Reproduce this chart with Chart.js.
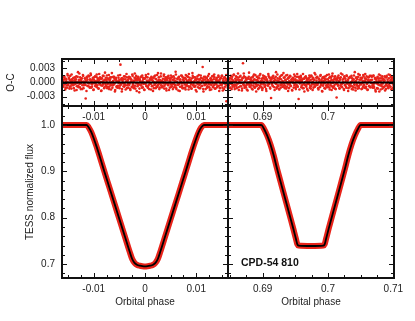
<!DOCTYPE html>
<html>
<head>
<meta charset="utf-8">
<script src="https://cdn.jsdelivr.net/npm/chart.js@4.4.1/dist/chart.umd.min.js"></script>
<style>
  html, body { margin: 0; padding: 0; background: #fff; }
  #wrap { position: relative; width: 415px; height: 321px; }
  #wrap canvas { position: absolute; left: 0; top: 0; }
</style>
</head>
<body>
<div id="wrap">
  <canvas id="bl" width="415" height="321"></canvas>
  <canvas id="br" width="415" height="321"></canvas>
  <canvas id="tl" width="415" height="321"></canvas>
  <canvas id="tr" width="415" height="321"></canvas>
</div>
<script>
// ---- data ----
const RANGE_L = [-0.0162, 0.0162];
const RANGE_R = [0.6847, 0.7101];

const X_TICKS_L = [-0.01, 0, 0.01];
const X_LABELS_L = ['-0.01', '0', '0.01'];
const X_TICKS_R = [0.69, 0.70, 0.71];
const X_LABELS_R = ['0.69', '0.7', '0.71'];
const X_TICKS_R_TOP = [0.69, 0.70];
const X_LABELS_R_TOP = ['0.69', '0.7'];

const OC_RANGE = [-0.005, 0.005];
const OC_TICKS = [0.003, 0, -0.003];
const OC_LABELS = ['0.003', '0.000', '-0.003'];
const FLUX_RANGE = [0.67, 1.041];
const FLUX_TICKS = [1.0, 0.9, 0.8, 0.7];
const FLUX_LABELS = ['1.0', '0.9', '0.8', '0.7'];

const STAR_NAME = 'CPD-54 810';

// model light curve, primary eclipse
const MODEL_PH_L = [-0.0162, -0.0114, -0.0110, -0.0105, -0.0100, -0.0095, -0.0090, -0.0085, -0.0080, -0.0070,
  -0.0060, -0.0050, -0.0040, -0.0030, -0.0025, -0.0020, -0.0015, -0.0010, -0.0005, 0,
  0.0005, 0.0010, 0.0015, 0.0020, 0.0025, 0.0030, 0.0040, 0.0050, 0.0060, 0.0070,
  0.0080, 0.0085, 0.0090, 0.0095, 0.0100, 0.0105, 0.0110, 0.0115, 0.0162];
const MODEL_FLUX_L = [1.000, 1.000, 0.995, 0.985, 0.971, 0.955, 0.938, 0.920, 0.902, 0.867,
  0.832, 0.797, 0.762, 0.727, 0.711, 0.702, 0.698, 0.6965, 0.6955, 0.695,
  0.6955, 0.6965, 0.698, 0.702, 0.711, 0.727, 0.762, 0.797, 0.832, 0.867,
  0.902, 0.920, 0.938, 0.955, 0.971, 0.985, 0.995, 1.000, 1.000];

// model light curve, secondary eclipse (flat bottomed)
const MODEL_PH_R = [0.6847, 0.6898, 0.6902, 0.6907, 0.6912, 0.6917, 0.6922, 0.6927, 0.6932, 0.6937,
  0.6942, 0.6947, 0.6951, 0.6953, 0.6955, 0.6974, 0.6993, 0.6995, 0.6997, 0.7001,
  0.7006, 0.7011, 0.7016, 0.7021, 0.7026, 0.7031, 0.7036, 0.7041, 0.7046, 0.7050, 0.7101];
const MODEL_FLUX_R = [1.000, 1.000, 0.992, 0.977, 0.958, 0.934, 0.906, 0.880, 0.854, 0.828,
  0.802, 0.776, 0.754, 0.743, 0.740, 0.739, 0.740, 0.743, 0.754, 0.776,
  0.802, 0.828, 0.854, 0.880, 0.906, 0.934, 0.958, 0.977, 0.992, 1.000, 1.000];

// O-C residuals in units of 1e-4, in phase order across each panel (two interleaved passes each)
const RES_PH_L_A = [-0.0161, 0.0161];
const RES_PH_L_B = [-0.01605, 0.01615];
const RES_L_A = [
  4,-7,12,-3,9,-15,2,6,-11,18,-5,0,8,-9,14,-2,-13,7,3,-6,
  10,-4,-17,5,1,13,-8,-1,22,-10,6,-3,11,-14,3,9,-6,16,-12,2,
  -5,8,-34,4,12,-7,0,15,-2,-9,7,19,-11,3,-4,10,-16,6,-1,13,
  -8,2,17,-6,9,-13,5,-3,11,1,-18,8,-7,14,-1,4,-10,21,-5,6,
  3,-12,9,-2,16,-9,7,-4,-15,11,0,-6,12,-3,8,-19,5,10,-8,2,
  -11,15,-1,6,-7,38,-4,9,-14,3,7,-2,-9,13,-6,1,18,-12,5,-3,
  8,-5,11,-16,2,6,-10,14,-1,-7,4,19,-13,9,-2,5,-8,12,-4,-21,
  7,1,-6,13,-11,3,10,-3,-15,8,-1,16,-7,4,11,-9,2,-14,6,9,
  -3,12,-8,5,-18,10,0,-5,15,-12,7,2,-9,20,-4,6,-11,3,13,-6,
  1,-10,8,-2,17,-7,4,11,-13,-1,9,-5,14,-16,3,7,-4,10,-8,12,
  -14,5,-3,9,-6,23,-11,2,8,-4,-17,12,6,-9,1,15,-2,-7,11,-12,
  4,-1,10,-15,7,-5,13,3,-8,18,-10,0,6,-3,-13,9,14,-6,2,-9,
  11,-7,5,-19,8,1,-4,16,-12,6,-2,10,-8,3,33,-14,7,-1,-6,12,
  -3,9,-11,4,14,-9,2,-16,8,5,-5,13,-1,-10,7,17,-13,0,6,-4,
  10,-8,3,12,-18,6,-2,9,-6,15,-11,4,1,-14,11,-3,8,-40,5,2];
const RES_L_B = [
  2,-9,6,13,-4,-11,8,1,-6,15,-2,10,-13,5,-8,3,17,-5,-1,9,
  -12,4,11,-3,7,-16,0,12,-7,3,19,-10,5,-2,8,-14,1,14,-6,-3,
  9,-5,2,-18,10,6,-8,-1,13,-11,4,16,-3,-9,7,0,-15,11,3,-7,
  -4,12,-10,5,1,-13,18,-2,8,-6,-17,9,2,-4,14,-12,6,-1,10,-8,
  15,-3,-9,7,-14,4,11,-6,0,20,-11,3,-5,12,-2,-16,8,5,-10,1,
  -7,10,3,-12,16,-4,6,-19,9,-1,-8,13,-3,7,-15,2,11,-6,4,-11,
  12,-2,-14,8,1,-9,17,-5,3,-12,10,-7,5,14,-18,-1,9,-4,6,-13,
  3,11,-6,-2,15,-10,7,0,-16,9,-3,12,-8,2,-11,18,-5,4,-1,8,
  -15,6,10,-7,2,-12,13,-4,8,-1,-9,16,-6,3,11,-14,5,-2,19,-10,
  4,-8,1,14,-13,7,-3,10,-17,5,12,-6,-1,9,-11,3,15,-9,-4,6,
  -2,13,-10,4,-6,17,-14,1,8,-5,11,-3,-18,7,2,-9,14,-12,6,0,
  9,-4,-11,16,-7,3,-1,12,-15,6,10,-8,4,-13,1,20,-6,-3,11,-9,
  5,-16,8,-2,13,-10,2,7,-5,-12,15,-1,9,-7,4,-19,12,-3,6,-14,
  1,10,-8,5,-3,18,-11,-4,9,-15,6,2,-9,14,-6,11,-2,-13,7,3,
  -10,4,15,-7,1,-12,9,-5,13,-3,-17,8,-1,11,-9,5,16,-6,2,-11];
const RES_PH_R_A = [0.6848, 0.7100];
const RES_PH_R_B = [0.68484, 0.71004];
const RES_R_A = [
  -6,9,2,-12,14,-3,7,-9,1,16,-5,-14,8,3,-7,11,-2,19,-10,5,
  12,-8,-1,6,-17,10,41,-4,13,-11,2,8,-6,-15,9,0,-3,21,-9,7,
  -2,5,-13,11,3,-7,17,-10,6,-1,-19,12,4,-5,9,-12,15,1,-8,3,
  8,-16,10,-4,2,13,-9,6,-14,7,0,-6,18,-3,11,-11,5,-33,9,-1,
  -7,14,3,-10,6,-2,22,-13,4,9,-8,1,-15,12,-5,7,-3,16,-9,2,
  10,-6,-12,5,15,-1,-9,8,-18,11,3,-4,13,-7,6,-16,2,9,-11,17,
  -3,7,-14,1,12,-8,4,-35,10,-2,6,14,-10,3,-5,18,-12,8,0,-6,
  13,-9,5,-3,-17,9,2,11,-7,-13,15,-4,7,1,-11,6,20,-8,-2,10,
  -5,12,-1,-15,8,4,-9,16,-6,3,-19,11,-3,9,-12,5,13,-7,1,-10,
  7,-4,17,-11,2,-6,10,-16,14,-1,5,-8,12,-13,8,-2,-32,6,11,-5,
  3,-12,9,-7,19,-3,-10,6,1,-14,13,-5,8,-9,15,-2,4,-18,10,-6,
  -9,11,-2,14,-8,5,-15,7,-4,22,-11,3,9,-6,-13,12,0,-7,16,-3,
  6,-14,10,-1,-9,13,-5,4,18,-12,7,-3,-16,11,2,-8,14,-10,5,-1,
  12,-7,-4,15,-11,1,8,-19,6,-2,10,-13,3,17,-6,9,-15,4,-8,13,
  -2,8,-10,5,-17,11,-4,14,-7,2,-12,9,-1,16,-9,6,-14,3,11,-5];
const RES_R_B = [
  7,-3,-11,9,2,-14,12,-6,4,17,-9,1,-5,13,-12,6,-2,10,-16,3,
  -1,14,-8,5,-13,9,-4,19,-7,2,11,-10,6,-3,-17,8,12,-5,1,-9,
  10,-6,3,-15,13,-2,7,-11,16,-4,-8,5,12,-14,2,9,-7,18,-3,-10,
  4,-12,15,-1,8,-9,-5,11,-18,6,3,-7,14,-2,10,-13,1,7,-4,12,
  -8,2,9,-16,5,12,-3,-10,17,-6,4,-14,8,1,-11,15,-5,3,-9,20,
  -2,11,-7,6,-13,1,16,-4,9,-12,-3,14,-8,2,7,-17,10,-1,5,-6,
  13,-10,4,-5,18,-9,2,12,-15,3,-1,10,-7,6,-12,8,-3,-19,11,1,
  -6,9,-14,2,7,-3,15,-11,5,-8,13,0,-16,10,-4,6,-9,17,-2,4,
  11,-5,-12,8,1,-10,14,-3,6,-18,9,-7,3,12,-1,-13,7,-6,16,-4,
  -9,3,10,-15,12,-2,5,-8,19,-11,1,7,-5,13,-14,4,-3,9,-7,15,
  2,-13,6,11,-4,-9,17,-1,8,-16,10,-6,3,-11,14,-2,5,-12,9,-3,
  12,-7,1,-14,9,4,-10,15,-5,2,-17,11,-3,7,-8,18,-12,6,-1,10,
  -4,8,-13,3,16,-6,-11,9,2,-9,13,-2,-15,5,11,-7,4,-10,14,-1,
  6,-11,14,-8,-2,10,-16,7,1,-12,12,-4,8,-19,3,15,-6,-3,9,-13,
  5,-9,2,13,-7,-14,11,-1,6,-10,17,-5,-8,4,12,-15,9,-2,-11,7];

// ---- styling ----
const RED = '#e8231a';
const INK = '#111';
Chart.defaults.font.family = "'Liberation Sans', Arial, sans-serif";
Chart.defaults.font.size = 10;
Chart.defaults.color = '#222';

const toXY = (xs, ys) => xs.map((x, i) => ({ x, y: ys[i] }));
const resPoints = (range, vals) => vals.map((r, i) => ({
  x: range[0] + (range[1] - range[0]) * i / (vals.length - 1),
  y: r * 1e-4
}));

// inward ticks on all four sides plus the heavy frame
const frameTicks = {
  id: 'frameTicks',
  afterDatasetsDraw(chart, args, opts) {
    const { ctx, chartArea: a } = chart;
    const xs = chart.scales.x, ys = chart.scales.y;
    ctx.save();
    ctx.strokeStyle = INK;
    ctx.lineWidth = 1;
    ctx.beginPath();
    const marks = (scale, step, majors, horiz) => {
      const first = Math.ceil(scale.min / step - 1e-6);
      for (let k = first; k * step <= scale.max + 1e-9; k++) {
        const v = k * step;
        const major = majors.some(m => Math.abs(m - v) < step / 10);
        const len = major ? 5 : 3;
        const p = Math.round(scale.getPixelForValue(v)) + 0.5;
        if (horiz) {
          ctx.moveTo(p, a.bottom); ctx.lineTo(p, a.bottom - len);
          ctx.moveTo(p, a.top); ctx.lineTo(p, a.top + len);
        } else {
          ctx.moveTo(a.left, p); ctx.lineTo(a.left + len, p);
          ctx.moveTo(a.right, p); ctx.lineTo(a.right - len, p);
        }
      }
    };
    marks(xs, opts.xStep, opts.xMajor, true);
    marks(ys, opts.yStep, opts.yMajor, false);
    ctx.stroke();
    ctx.lineWidth = 2;
    ctx.strokeRect(a.left, a.top, a.right - a.left, a.bottom - a.top);
    if (opts.note) {
      ctx.fillStyle = INK;
      ctx.font = "bold 10.5px 'Liberation Sans', Arial, sans-serif";
      ctx.textBaseline = 'middle';
      ctx.fillText(opts.note, a.left + 13, a.bottom - 15);
    }
    ctx.restore();
  }
};

function xAxis(range, ticks, labels, height, title) {
  return {
    type: 'linear', position: 'bottom', min: range[0], max: range[1],
    afterBuildTicks: s => { s.ticks = ticks.map(v => ({ value: v })); },
    afterFit: s => { s.height = height; },
    grid: { display: false, drawTicks: false }, border: { display: false },
    ticks: { autoSkip: false, maxRotation: 0, padding: 5, callback: (v, i) => labels[i] },
    title: title ? { display: true, text: title, font: { size: 10 }, padding: { top: 0, bottom: 13 } } : { display: false }
  };
}

function yAxis(range, ticks, labels, title, titlePad) {
  if (!labels) return { type: 'linear', display: false, min: range[0], max: range[1] };
  return {
    type: 'linear', position: 'left', min: range[0], max: range[1],
    afterBuildTicks: s => { s.ticks = ticks.map(v => ({ value: v })); },
    afterFit: s => { s.width = 62; },
    grid: { display: false, drawTicks: false }, border: { display: false },
    ticks: { padding: 7, callback: (v, i) => labels[i] },
    title: { display: true, text: title, font: { size: 10 }, padding: { top: titlePad, bottom: 0 } }
  };
}

function panel(id, datasets, padding, x, y, ticks) {
  return new Chart(document.getElementById(id), {
    type: 'scatter',
    data: { datasets },
    options: {
      responsive: false, animation: false, devicePixelRatio: 1,
      layout: { padding },
      plugins: { legend: { display: false }, tooltip: { enabled: false }, frameTicks: ticks },
      scales: { x, y }
    },
    plugins: [frameTicks]
  });
}

const zeroLine = range => ({
  type: 'line', data: toXY(range, [0, 0]), borderColor: '#000', borderWidth: 2, pointRadius: 0, order: 0
});
const residuals = (range, vals) => ({
  data: resPoints(range, vals), pointRadius: 1.3, pointBorderWidth: 0,
  backgroundColor: RED, borderColor: RED, order: 1
});
const model = (ph, flux) => ({
  type: 'line', data: toXY(ph, flux), borderColor: '#000', borderWidth: 1.8, pointRadius: 0,
  cubicInterpolationMode: 'monotone', order: 0
});
const observed = (ph, flux) => ({
  type: 'line', data: toXY(ph, flux), borderColor: RED, borderWidth: 6, pointRadius: 0,
  cubicInterpolationMode: 'monotone', order: 1
});

const ocTicks = (xStep, xMajor) => ({ xStep, xMajor, yStep: 0.0015, yMajor: OC_TICKS });
const fxTicks = (xStep, xMajor, note) => ({ xStep, xMajor, yStep: 0.02, yMajor: FLUX_TICKS, note });

// O-C, primary (its tick labels sit just below the panel, inside the lower frame)
panel('tl', [zeroLine(RANGE_L), residuals(RES_PH_L_A, RES_L_A), residuals(RES_PH_L_B, RES_L_B)],
  { left: 0, right: 187, top: 59, bottom: 195 },
  xAxis(RANGE_L, X_TICKS_L, X_LABELS_L, 20, null),
  yAxis(OC_RANGE, OC_TICKS, OC_LABELS, 'O-C', 5),
  ocTicks(0.0025, X_TICKS_L));

// O-C, secondary
panel('tr', [zeroLine(RANGE_R), residuals(RES_PH_R_A, RES_R_A), residuals(RES_PH_R_B, RES_R_B)],
  { left: 228, right: 21, top: 59, bottom: 195 },
  xAxis(RANGE_R, X_TICKS_R_TOP, X_LABELS_R_TOP, 20, null),
  yAxis(OC_RANGE),
  ocTicks(0.0025, X_TICKS_R));

// light curve, primary
panel('bl', [model(MODEL_PH_L, MODEL_FLUX_L), observed(MODEL_PH_L, MODEL_FLUX_L)],
  { left: 0, right: 187, top: 106, bottom: 0 },
  xAxis(RANGE_L, X_TICKS_L, X_LABELS_L, 43, 'Orbital phase'),
  yAxis(FLUX_RANGE, FLUX_TICKS, FLUX_LABELS, 'TESS normalized flux', 24),
  fxTicks(0.0025, X_TICKS_L));

// light curve, secondary
panel('br', [model(MODEL_PH_R, MODEL_FLUX_R), observed(MODEL_PH_R, MODEL_FLUX_R)],
  { left: 228, right: 21, top: 106, bottom: 0 },
  xAxis(RANGE_R, X_TICKS_R, X_LABELS_R, 43, 'Orbital phase'),
  yAxis(FLUX_RANGE),
  fxTicks(0.0025, X_TICKS_R, STAR_NAME));
</script>
</body>
</html>
